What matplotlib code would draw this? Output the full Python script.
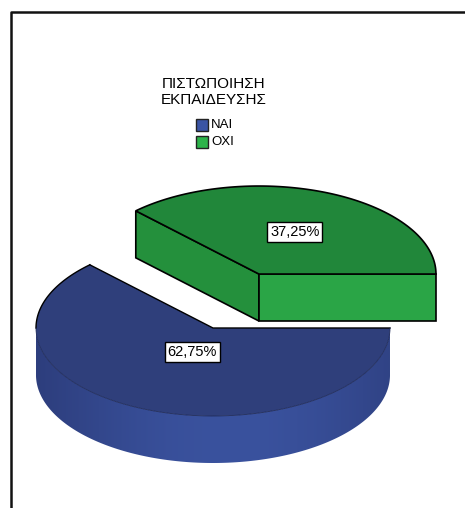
"""3D exploded pie: ΠΙΣΤΩΠΟΙΗΣΗ ΕΚΠΑΙΔΕΥΣΗΣ (ΝΑΙ / ΟΧΙ)."""
import numpy as np
import matplotlib; matplotlib.use("Agg")
import matplotlib.pyplot as plt
from matplotlib.patches import Polygon, Rectangle

labels = ["ΝΑΙ", "ΟΧΙ"]
percent = [62.75, 37.25]
explode = [0.0, 0.666]
label_r = [0.30, 0.52]
title = "ΠΙΣΤΩΠΟΙΗΣΗ\nΕΚΠΑΙΔΕΥΣΗΣ"

# face colours: top, cut face at 0 deg, cut face at end angle, legend swatch
TOP = ["#2f3f7b", "#21873a"]
CUT0 = ["#2f3f7b", "#2aa546"]
CUT1 = ["#2f3f7b", "#24903c"]
SWATCH = ["#3a54a4", "#2db34a"]
SIDE_DARK = np.array([44, 60, 122]) / 255
SIDE_LIGHT = np.array([58, 82, 158]) / 255

plt.rcParams["font.family"] = ["Liberation Sans", "DejaVu Sans"]
W, H = 465, 508
fig = plt.figure(figsize=(W / 100, H / 100), dpi=100, facecolor="white")
ax = fig.add_axes([0, 0, 1, 1])
ax.set_xlim(0, W); ax.set_ylim(0, H); ax.axis("off")

# frame (left + top)
ax.plot([11, 11, W], [0, H - 12, H - 12], color="#111111", lw=1.8, solid_capstyle="butt")

cx, cy, rx, ry, depth = 213, H - 328, 177, 88, 47

def ell(t, x0, y0, dz=0):
    t = np.radians(t)
    return np.column_stack([x0 + rx * np.cos(t), y0 + ry * np.sin(t) - dz])

# slices run clockwise from 0 deg
bounds = []
a = 0.0
for p in percent:
    bounds.append((a - 360 * p / 100, a))
    a -= 360 * p / 100

def draw_slice(i):
    t0, t1 = bounds[i]
    mid = np.radians((t0 + t1) / 2)
    x0 = cx + explode[i] * rx * np.cos(mid)
    y0 = cy + explode[i] * ry * np.sin(mid)
    # visible curved side: angles between 180 and 360 (mod 360), shaded by x
    ts = np.linspace(t0, t1, 400)
    tm = np.mod(ts, 360)
    vis = np.sort(ts[(tm >= 180) & (tm <= 360)])
    if len(vis) > 1:
        side = Polygon(np.vstack([ell(vis, x0, y0), ell(vis[::-1], x0, y0, depth)]),
                       closed=True, fc="none", ec="none")
        ax.add_patch(side)
        xs = np.linspace(x0 - rx, x0 + rx, 300)
        u = (xs - (x0 + 0.1 * rx)) / rx
        w = np.clip(np.cos(np.clip(u, -1.2, 1.2) * np.pi / 2.4), 0, 1) ** 1.2
        grad = SIDE_DARK + (SIDE_LIGHT - SIDE_DARK) * w[:, None]
        img = ax.imshow(grad[None, :, :], extent=[x0 - rx, x0 + rx, y0 - ry - depth, y0],
                        aspect="auto", interpolation="bilinear", zorder=1)
        img.set_clip_path(side)
    # cut faces, drawn only when they face the viewer
    e0 = ell(np.array([t0]), x0, y0)[0]
    e1 = ell(np.array([t1]), x0, y0)[0]
    c = np.array([x0, y0])
    if i > 0:
        ax.add_patch(Polygon([c, e1, e1 - [0, depth], c - [0, depth]], closed=True,
                             fc=CUT1[i], ec="black", lw=1.2, zorder=2))
        ax.add_patch(Polygon([c, e0, e0 - [0, depth], c - [0, depth]], closed=True,
                             fc=CUT0[i], ec="black", lw=1.2, zorder=2))
    # top face
    arc = ell(np.linspace(t0, t1, 300), x0, y0)
    ax.add_patch(Polygon(np.vstack([c, arc]), closed=True, fc=TOP[i], ec="none", zorder=2))
    if i == 0:
        ax.plot(*np.vstack([e0, c, e1]).T, color="black", lw=1.0, zorder=3)
        back = ell(np.linspace(t0, -180, 100), x0, y0)
        ax.plot(*back.T, color="black", lw=1.0, zorder=3)
        front = ell(np.linspace(-180, t1, 200), x0, y0)
        ax.plot(*front.T, color="#1e2a5a", lw=0.6, zorder=3)
    else:
        ax.add_patch(Polygon(np.vstack([c, arc]), closed=True, fc="none", ec="black",
                             lw=1.2, zorder=3))
    lx = x0 + label_r[i] * rx * np.cos(mid)
    ly = y0 + label_r[i] * ry * np.sin(mid)
    ax.text(lx, ly, f"{percent[i]:.2f}%".replace(".", ","), ha="center", va="center",
            fontsize=10.5, color="black", zorder=4,
            bbox=dict(boxstyle="square,pad=0.2", fc="white", ec="black", lw=1.0))

draw_slice(1)
draw_slice(0)

# legend
ax.text(214, H - 92, title, ha="center", va="center", fontsize=11, linespacing=1.1)
for i, lab in enumerate(labels):
    yy = H - 125 - 17 * i
    ax.add_patch(Rectangle((196, yy - 6), 12, 12, fc=SWATCH[i], ec="#222222", lw=1.0))
    ax.text(211, yy, lab, ha="left", va="center", fontsize=9.5)

fig.savefig("out.png", dpi=100, facecolor="white")
